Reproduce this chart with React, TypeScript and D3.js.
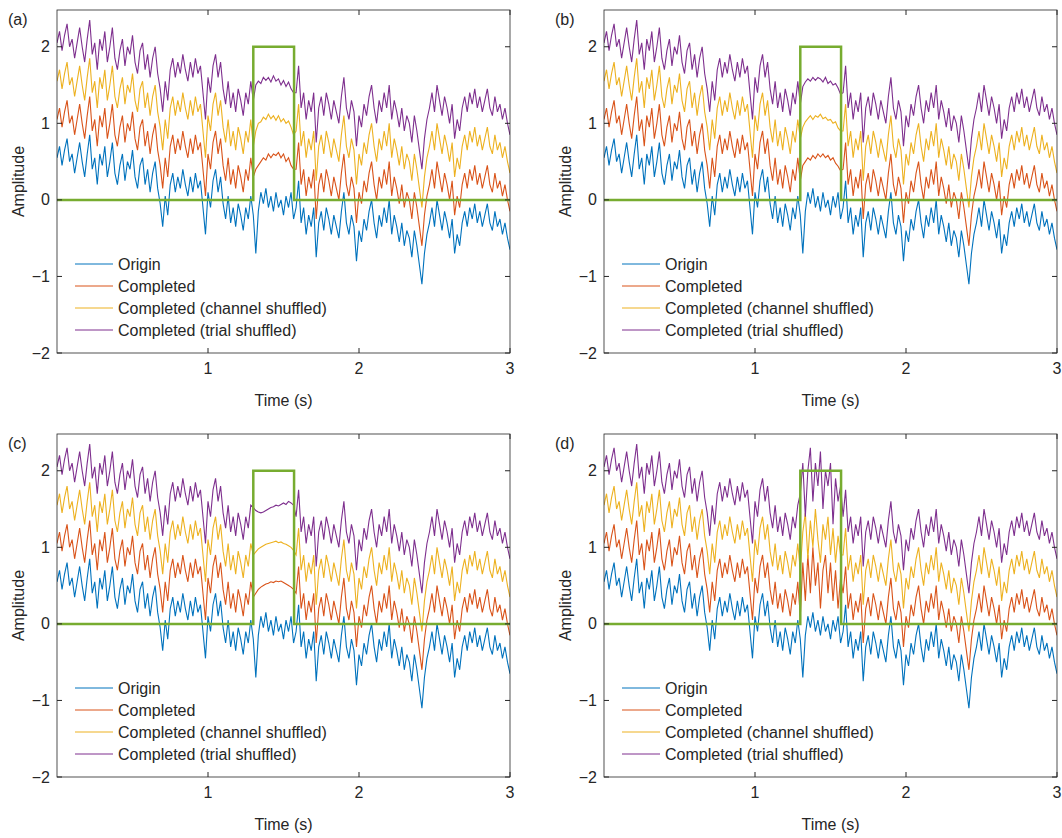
import * as d3 from 'd3';

// origin signal, sampled every 1/60 s from 0 to 3 s
const origin = [
  0.55, 0.7, 0.45, 0.65, 0.8, 0.5, 0.6, 0.35, 0.55, 0.75,
  0.5, 0.3, 0.6, 0.85, 0.4, 0.55, 0.2, 0.6, 0.45, 0.7,
  0.3, 0.5, 0.75, 0.35, 0.2, 0.45, 0.6, 0.25, 0.5, 0.4,
  0.65, 0.3, 0.15, 0.45, 0.55, 0.2, 0.4, 0.1, 0.35, 0.5,
  0.15, -0.05, -0.35, 0.05, -0.2, 0.2, 0.35, 0.1, 0.3, 0.15,
  0.4, 0.2, 0.05, 0.3, 0.1, 0.35, 0.15, 0.25, -0.1, -0.45,
  0.1, -0.1, 0.25, 0.4, 0.1, 0.3, -0.05, -0.25, 0.05, -0.3,
  -0.1, -0.35, -0.05, -0.2, -0.4, -0.1, -0.25, 0.05,
  -0.2, -0.7, -0.15, 0.1, -0.05, 0.15, -0.1, 0.05, -0.15, 0.1, -0.1, 0, -0.2, 0.05, -0.1, 0.1, -0.25,
  -0.1, 0.25, -0.3, -0.1, -0.45,
  -0.2, -0.35, -0.1, -0.75, -0.3, -0.15, -0.4, -0.1, -0.25, -0.45,
  -0.2, -0.35, -0.5, -0.15, 0.1, -0.3, -0.45, -0.2, -0.35, -0.8,
  -0.4, -0.55, -0.25, -0.4, -0.15, 0.0, -0.3, -0.5, -0.2, -0.35,
  -0.1, -0.3, 0.0, -0.45, -0.2, -0.35, -0.55, -0.3, -0.6, -0.4,
  -0.5, -0.75, -0.4, -0.6, -0.85, -1.1, -0.7, -0.45, -0.3, -0.1,
  -0.35, 0.0, -0.2, -0.4, -0.15, -0.3, -0.5, -0.25, -0.7, -0.45,
  -0.6, -0.3, -0.15, -0.35, -0.1, -0.25, -0.05, -0.3, -0.15, -0.35,
  -0.2, -0.05, -0.3, -0.4, -0.15, -0.35, -0.25, -0.45, -0.3, -0.5, -0.65,
];
const dt = 1 / 60;
const gapStart = 78; // index of 1.3 s, gap spans 17 samples

// completed values inside the gap, per panel [completed, channel shuffled, trial shuffled]
const gapA = [
  [-0.2, -0.1, -0.05, 0, 0.05, 0.02, 0.1, 0.05, 0.1, 0.08, 0.12, 0.05, 0.1, 0, 0.05, -0.05, -0.1],
  [-0.3, -0.1, 0, 0.02, 0.08, 0.05, 0.12, 0.06, 0.1, 0.04, 0.1, 0.02, 0.06, 0, 0.03, -0.05, -0.15],
  [-0.2, 0, 0.05, 0.02, 0.1, 0.06, 0.1, 0.04, 0.12, 0.05, 0.08, 0, 0.06, -0.02, 0.04, -0.05, -0.1],
];
const gapB = [
  [-0.25, -0.05, 0, 0.05, 0.02, 0.08, 0.04, 0.1, 0.06, 0.1, 0.05, 0.08, 0.02, 0.05, -0.02, -0.06, -0.12],
  [-0.2, -0.05, 0.02, 0.06, 0.1, 0.05, 0.1, 0.08, 0.12, 0.06, 0.08, 0.04, 0.05, 0, 0.02, -0.06, -0.1],
  [-0.25, -0.02, 0.04, 0.08, 0.05, 0.1, 0.06, 0.1, 0.08, 0.04, 0.1, 0.02, 0.05, 0, 0.02, -0.04, -0.12],
];
const gapC = [
  [-0.15, -0.1, -0.05, -0.02, 0, 0.02, 0.03, 0.05, 0.04, 0.06, 0.05, 0.06, 0.04, 0.02, 0, -0.02, -0.05],
  [-0.1, -0.06, -0.02, 0, 0.02, 0.04, 0.05, 0.06, 0.07, 0.08, 0.06, 0.07, 0.05, 0.04, 0.02, 0, -0.04],
  [0.02, -0.02, -0.04, -0.05, -0.04, -0.02, 0, 0.02, 0.03, 0.05, 0.04, 0.06, 0.08, 0.06, 0.1, 0.08, 0.05],
];
const gapD = [
  [-0.4, 0.3, -0.2, 0.4, -0.1, 0.5, 0, 0.3, -0.3, 0.2, 0.4, -0.1, 0.3, -0.2, 0.2, -0.3, 0.1],
  [-0.3, 0.2, 0.45, -0.15, 0.35, 0, 0.5, 0.1, -0.2, 0.3, 0.1, 0.4, -0.1, 0.25, -0.2, 0.15, -0.1],
  [0.2, 0.6, -0.1, 0.5, 0.8, 0.1, 0.6, 0.3, 0.75, 0, 0.5, 0.3, 0.6, -0.2, 0.4, 0.1, 0.3],
];

const mask = { t: [0, 1.3, 1.3, 1.57, 1.57, 3], v: [0, 0, 2, 2, 0, 0] };
const offsets = [0, 0.5, 1, 1.5];
const seriesNames = ['Origin', 'Completed', 'Completed (channel shuffled)', 'Completed (trial shuffled)'];
const colors = ['#0072BD', '#D95319', '#EDB120', '#7E2F8E'];
const yTicks = [-2, -1, 0, 1, 2];
const xTicks = [1, 2, 3];

const panels = [
  { label: '(a)', gaps: gapA, x0: 57, y0: 10 },
  { label: '(b)', gaps: gapB, x0: 604, y0: 10 },
  { label: '(c)', gaps: gapC, x0: 57, y0: 434 },
  { label: '(d)', gaps: gapD, x0: 604, y0: 434 },
];
const W = 453, H = 343;
const font = 'Liberation Sans, Arial, sans-serif';

function Panel({ p, idx }: { p: typeof panels[0]; idx: number }) {
  const x = d3.scaleLinear().domain([0, 3]).range([0, W]);
  const y = d3.scaleLinear().domain([-2, 2.48]).range([H, 0]);
  const line = d3.line<[number, number]>().x(d => x(d[0])).y(d => y(d[1]));
  const series = offsets.map((off, s) =>
    origin.map((v, i): [number, number] => {
      const g = i - gapStart;
      const base = s > 0 && g >= 0 && g < 17 ? p.gaps[s - 1][g] : v;
      return [i * dt, base + off];
    })
  );
  const maskPts = mask.t.map((t, i): [number, number] => [t, mask.v[i]]);
  const clip = `clip${idx}`;
  return (
    <g transform={`translate(${p.x0},${p.y0})`} fontFamily={font}>
      <defs><clipPath id={clip}><rect width={W} height={H} /></clipPath></defs>
      <g clipPath={`url(#${clip})`}>
        {series.map((d, s) => (
          <path key={s} d={line(d)!} fill="none" stroke={colors[s]} strokeWidth={1.1} />
        ))}
        <path d={line(maskPts)!} fill="none" stroke="#77AC30" strokeWidth={2.5} />
      </g>
      <rect width={W} height={H} fill="none" stroke="#262626" strokeWidth={0.8} />
      {xTicks.map(t => (
        <g key={t} transform={`translate(${x(t)},0)`}>
          <line y1={H} y2={H - 5} stroke="#262626" />
          <line y1={0} y2={5} stroke="#262626" />
          <text y={H + 21} textAnchor="middle" fontSize={16} fill="#262626">{t}</text>
        </g>
      ))}
      {yTicks.map(t => (
        <g key={t} transform={`translate(0,${y(t)})`}>
          <line x1={0} x2={5} stroke="#262626" />
          <line x1={W} x2={W - 5} stroke="#262626" />
          <text x={-7} dy="0.35em" textAnchor="end" fontSize={16} fill="#262626">{t < 0 ? `\u2212${-t}` : t}</text>
        </g>
      ))}
      <text x={W / 2} y={H + 53} textAnchor="middle" fontSize={16} fill="#262626">Time (s)</text>
      <text transform={`translate(${-33},${H / 2}) rotate(-90)`} textAnchor="middle" fontSize={16} fill="#262626">Amplitude</text>
      <text x={-49} y={15} fontSize={16} fill="#262626">{p.label}</text>
      {seriesNames.map((n, s) => (
        <g key={n} transform={`translate(18,${254 + s * 22})`}>
          <line x1={0} x2={38} stroke={colors[s]} strokeWidth={1} />
          <text x={43} dy="0.35em" fontSize={16} fill="#262626">{n}</text>
        </g>
      ))}
    </g>
  );
}

export default function App() {
  return (
    <svg width={1062} height={838} style={{ position: 'absolute', left: 0, top: 0, background: '#fff' }}>
      {panels.map((p, i) => <Panel key={i} p={p} idx={i} />)}
    </svg>
  );
}
